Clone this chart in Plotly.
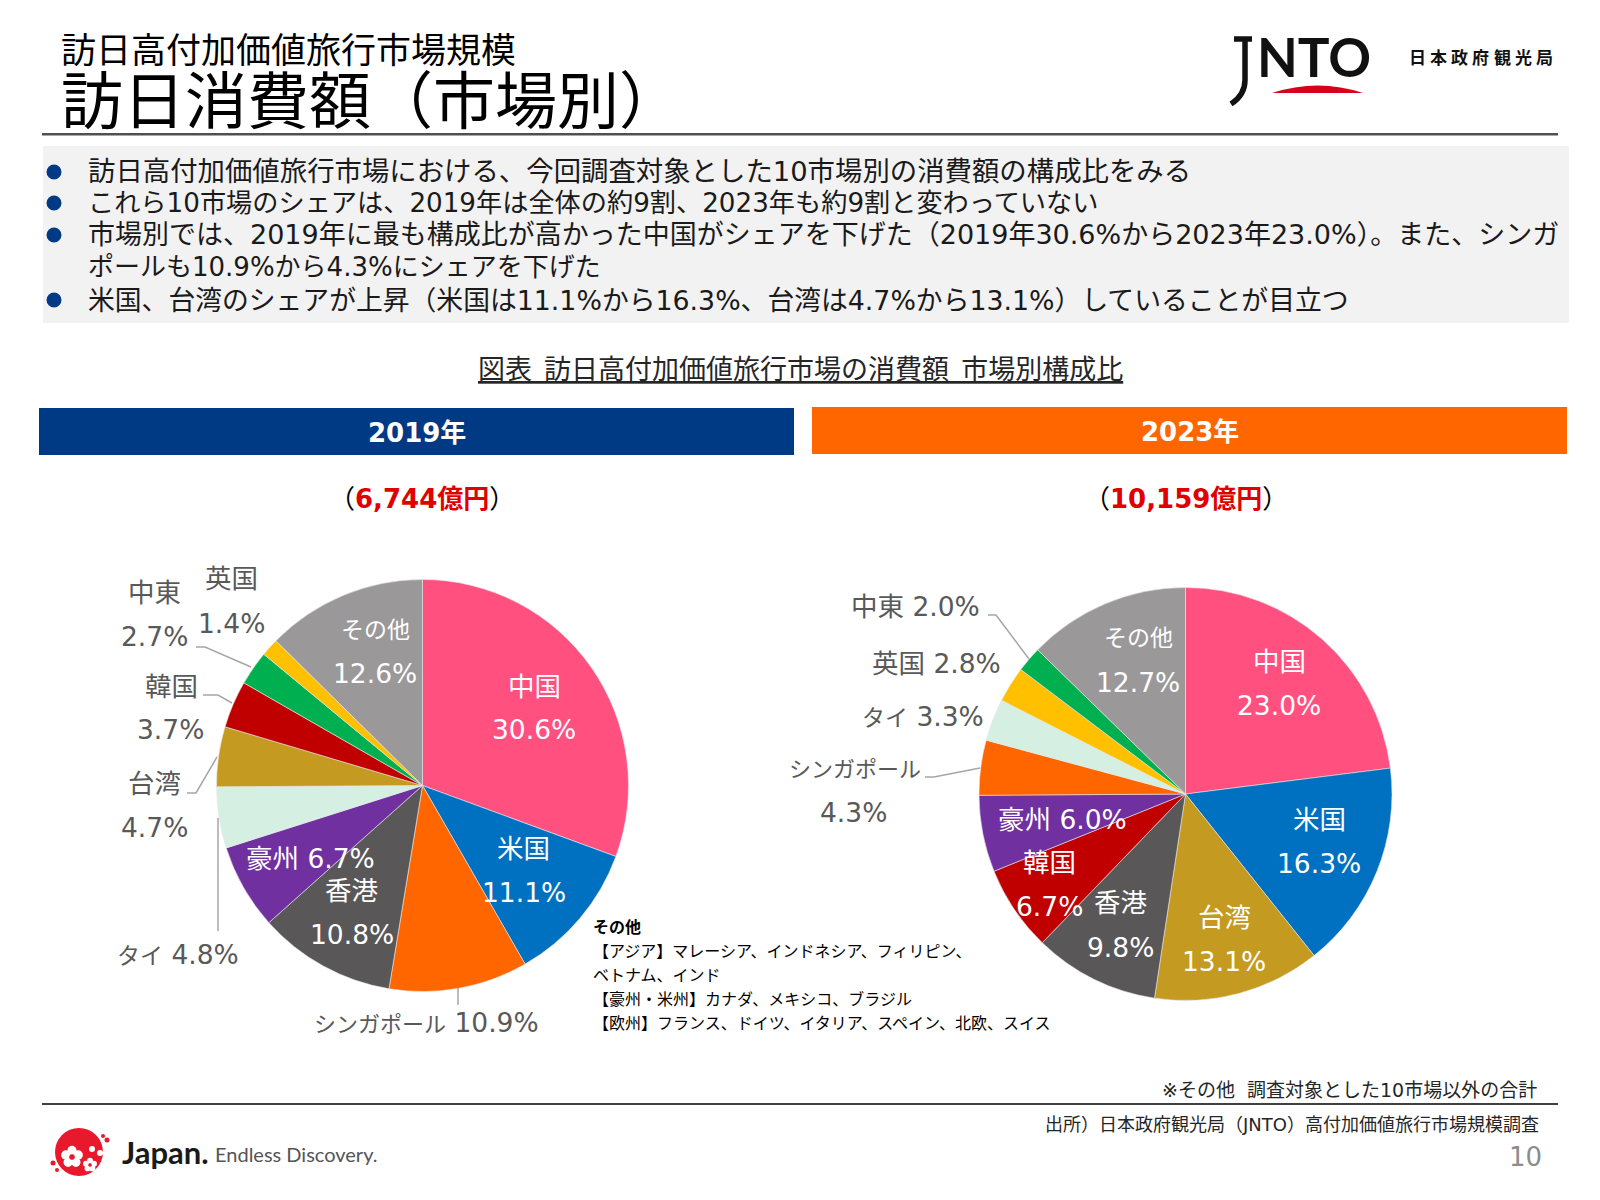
import math
import plotly.graph_objects as go

# ---- data ----
cats_2019 = ["中国", "米国", "シンガポール", "香港", "豪州", "タイ", "台湾", "韓国", "中東", "英国", "その他"]
vals_2019 = [30.6, 11.1, 10.9, 10.8, 6.7, 4.8, 4.7, 3.7, 2.7, 1.4, 12.6]
cats_2023 = ["中国", "米国", "台湾", "香港", "韓国", "豪州", "シンガポール", "タイ", "英国", "中東", "その他"]
vals_2023 = [23.0, 16.3, 13.1, 9.8, 6.7, 6.0, 4.3, 3.3, 2.8, 2.0, 12.7]

subtitle = "訪日高付加価値旅行市場規模"
title = "訪日消費額（市場別）"
bullets = [
    "訪日高付加価値旅行市場における、今回調査対象とした10市場別の消費額の構成比をみる",
    "これら10市場のシェアは、2019年は全体の約9割、2023年も約9割と変わっていない",
    "市場別では、2019年に最も構成比が高かった中国がシェアを下げた（2019年30.6%から2023年23.0%）。また、シンガ",
    "ポールも10.9%から4.3%にシェアを下げた",
    "米国、台湾のシェアが上昇（米国は11.1%から16.3%、台湾は4.7%から13.1%）していることが目立つ",
]
chart_title = "図表  訪日高付加価値旅行市場の消費額  市場別構成比"
notes = [
    "<b>その他</b>",
    "【アジア】マレーシア、インドネシア、フィリピン、",
    "ベトナム、インド",
    "【豪州・米州】カナダ、メキシコ、ブラジル",
    "【欧州】フランス、ドイツ、イタリア、スペイン、北欧、スイス",
]
agency = "日本政府観光局"

# ---- styles / layout ----
W, H = 1600, 1200
SANS = "DejaVu Sans, Noto Sans CJK JP"
CJK = "Noto Sans CJK JP"
colors = {"中国": "#FF5080", "米国": "#0070C0", "シンガポール": "#FF6600", "香港": "#595758",
          "豪州": "#7030A0", "タイ": "#D5EFE3", "台湾": "#C49A20", "韓国": "#C00000",
          "中東": "#00B050", "英国": "#FFC000", "その他": "#9A9899"}
GREY = "#595959"
NARROW = {"シンガポール": 22, "その他": 23, "タイ": 23}


def fx(x):
    return x / W


def fy(y):
    return 1 - y / H


annotations, shapes = [], []


def text(x, y, s, size, color="#000000", anchor="left", family=SANS, **font_extra):
    annotations.append(dict(x=fx(x), y=fy(y), xref="paper", yref="paper", text=s, showarrow=False,
                            xanchor=anchor, yanchor="middle", borderpad=0,
                            font=dict(size=size, color=color, family=family, **font_extra)))


def rect(x0, y0, x1, y1, fill):
    shapes.append(dict(type="rect", xref="paper", yref="paper", x0=fx(x0), y0=fy(y0), x1=fx(x1), y1=fy(y1),
                       fillcolor=fill, line=dict(width=0), layer="below"))


def circle(cx, cy, r, fill):
    shapes.append(dict(type="circle", xref="paper", yref="paper", x0=fx(cx - r), y0=fy(cy - r),
                       x1=fx(cx + r), y1=fy(cy + r), fillcolor=fill, line=dict(width=0)))


def path(points, color="#A6A6A6", width=1.5):
    d = "M " + " L ".join(f"{fx(x):.5f},{fy(y):.5f}" for x, y in points)
    shapes.append(dict(type="path", xref="paper", yref="paper", path=d, line=dict(color=color, width=width)))


def flower(cx, cy, r):
    for k in range(5):
        a = math.radians(-90 + 72 * k)
        circle(cx + 0.6 * r * math.cos(a), cy + 0.6 * r * math.sin(a), 0.42 * r, "#FFFFFF")
    circle(cx, cy, 0.25 * r, "#E8192C")


# header
text(60, 47, subtitle, 35, family=CJK)
text(60, 97, title, 62, family=CJK)
rect(42, 133, 1558, 135.5, "#505050")

# bullet box
rect(43, 146, 1569, 323, "#F2F2F2")
bullet_y = [172, 203, 235, 267, 300]
bullet_size = [27.4, 26.2, 27, 26, 26.8]
for i, (b, y, sz) in enumerate(zip(bullets, bullet_y, bullet_size)):
    text(87, y, b, sz, color="#1a1a1a")
    if i != 3:
        circle(54, y, 7.5, "#003A85")

# chart title
text(800, 367, chart_title, 27, color="#262626", anchor="center", family=CJK, lineposition="under")

# year bands
rect(39, 408, 794, 455, "#003A85")
rect(812, 407, 1567, 454, "#FF6600")
text(416.5, 433, "<b>2019年</b>", 26, color="#FFFFFF", anchor="center")
text(1189.5, 432, "<b>2023年</b>", 26, color="#FFFFFF", anchor="center")
text(422.5, 499, "（<span style='color:#E00000'><b>6,744億円</b></span>）", 26, anchor="center")
text(1186, 499, "（<span style='color:#E00000'><b>10,159億円</b></span>）", 26, anchor="center")

# pie label positions: (name x, name y, pct x, pct y, colour); pct None => same line
label_pos_2019 = {
    "中国": (534, 686, 534, 730, "#FFFFFF"), "米国": (523, 848, 524, 892, "#FFFFFF"),
    "シンガポール": (426, 1022, None, None, GREY), "香港": (351, 890, 352, 934, "#FFFFFF"),
    "豪州": (310, 858, None, None, "#FFFFFF"), "タイ": (178, 955, None, None, GREY),
    "台湾": (154, 783, 154, 827, GREY), "韓国": (171, 686, 170, 730, GREY),
    "中東": (154, 592, 154, 636, GREY), "英国": (232, 579, 232, 623, GREY),
    "その他": (375, 630, 375, 673, "#FFFFFF"),
}
label_pos_2023 = {
    "中国": (1279, 661, 1279, 705, "#FFFFFF"), "米国": (1319, 819, 1319, 863, "#FFFFFF"),
    "台湾": (1224, 917, 1224, 961, "#FFFFFF"), "香港": (1120, 903, 1120, 947, "#FFFFFF"),
    "韓国": (1049, 862, 1049, 906, "#FFFFFF"), "豪州": (1062, 819, None, None, "#FFFFFF"),
    "シンガポール": (855, 769, 854, 812, GREY), "タイ": (923, 716, None, None, GREY),
    "英国": (937, 663, None, None, GREY), "中東": (915, 606, None, None, GREY),
    "その他": (1138, 638, 1138, 682, "#FFFFFF"),
}
LABEL_SIZE = 26.5
for cats, vals, pos in ((cats_2019, vals_2019, label_pos_2019), (cats_2023, vals_2023, label_pos_2023)):
    for c, v in zip(cats, vals):
        x, y, px, py, col = pos[c]
        name = f"<span style='font-size:{NARROW[c]}px'>{c}</span>" if c in NARROW else c
        if px is None:
            text(x, y, f"{name} {v:.1f}%", LABEL_SIZE, color=col, anchor="center")
        else:
            text(x, y, name, LABEL_SIZE, color=col, anchor="center")
            text(px, py, f"{v:.1f}%", LABEL_SIZE, color=col, anchor="center")

# leader lines
path([(196, 647), (205, 647), (251, 667)])
path([(203, 695), (218, 695), (232, 703)])
path([(187, 793), (196, 793), (217, 757)])
path([(218, 931), (218, 818)])
path([(458, 1005), (458, 988)])
path([(988, 615), (996, 615), (1029, 659)])
path([(925, 777), (934, 777), (980, 768)])

# notes
for s, y in zip(notes, [926, 950, 974, 998, 1022]):
    text(592, y, s, 16, family=CJK)

# footer
text(1538, 1090, "※その他  調査対象とした10市場以外の合計", 19, color="#262626", anchor="right")
rect(42, 1103, 1558, 1105, "#404040")
text(1540, 1124, "出所）日本政府観光局（JNTO）高付加価値旅行市場規模調査", 18, color="#262626", anchor="right")
text(1543, 1157, "10", 26, color="#8C8C8C", anchor="right")

# JNTO mark
text(1256, 57, "<b>NTO</b>", 53, color="#111111", family="Lato")
shapes.append(dict(type="path", xref="paper", yref="paper", line=dict(color="#111111", width=5.5),
                   path=f"M {fx(1234)},{fy(39)} L {fx(1252)},{fy(39)} M {fx(1245)},{fy(39)} L {fx(1245)},{fy(80)} "
                        f"Q {fx(1245)},{fy(95)} {fx(1231)},{fy(104)}"))
shapes.append(dict(type="path", xref="paper", yref="paper", line=dict(width=0), fillcolor="#D9001B",
                   path=f"M {fx(1272)},{fy(93)} Q {fx(1318)},{fy(78)} {fx(1363)},{fy(93)} Z"))
for i, ch in enumerate(agency):
    text(1417 + 21.3 * i, 57, f"<b>{ch}</b>", 17, color="#111111", anchor="center", family=CJK)

# Japan. Endless Discovery mark
circle(79, 1152, 24, "#E8192C")
flower(72, 1157, 11)
flower(90, 1165, 7)
circle(92, 1149, 3, "#FFFFFF")
circle(100, 1153, 3, "#FFFFFF")
for cx, cy, r in ((107, 1140, 2.5), (103, 1136, 2), (53, 1163, 2.5), (57, 1170, 2)):
    circle(cx, cy, r, "#E8192C")
text(121, 1152, "<b>Japan.</b>", 31, color="#1a1a1a", family="Lato")
text(214, 1154, "Endless Discovery.", 20, color="#555555", family="Lato")


def pie(cats, vals, cx, cy, r):
    return go.Pie(labels=cats, values=vals, sort=False, direction="clockwise", rotation=0,
                  marker=dict(colors=[colors[c] for c in cats], line=dict(color="#E8E8E8", width=0.6)),
                  textinfo="none", hoverinfo="label+percent", showlegend=False,
                  domain=dict(x=[fx(cx - r), fx(cx + r)], y=[fy(cy + r), fy(cy - r)]))


fig = go.Figure([pie(cats_2019, vals_2019, 422.5, 785.5, 206), pie(cats_2023, vals_2023, 1185.5, 794, 206.5)])
fig.update_layout(width=W, height=H, margin=dict(l=0, r=0, t=0, b=0), paper_bgcolor="#FFFFFF",
                  plot_bgcolor="#FFFFFF", annotations=annotations, shapes=shapes)
fig.write_html("out.html", post_script="document.body.style.margin='0';", config={"displayModeBar": False})
